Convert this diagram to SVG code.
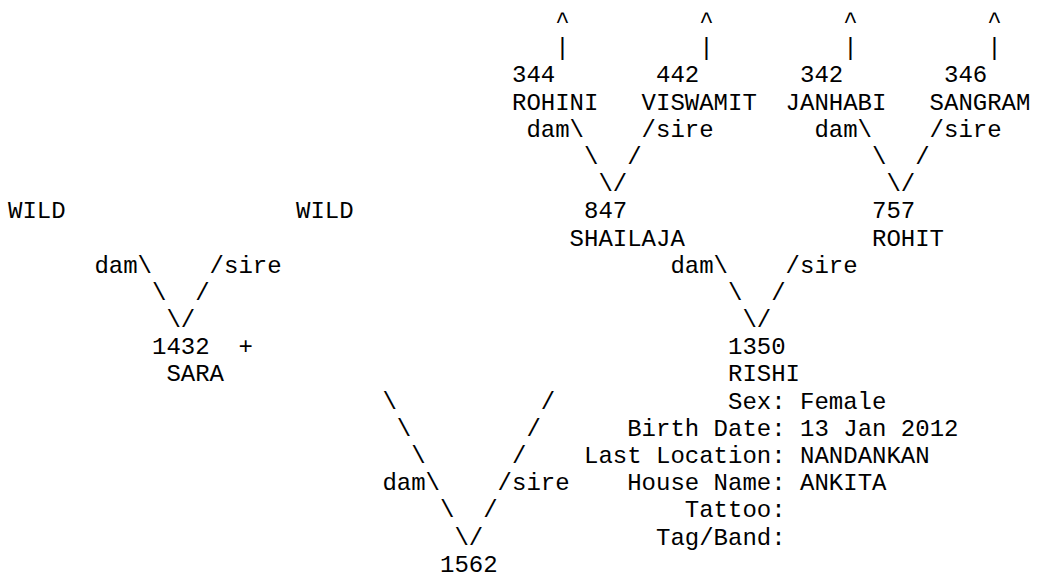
<svg xmlns="http://www.w3.org/2000/svg" width="1040" height="577" viewBox="0 0 1040 577">
<style>
text { font-family: "Liberation Mono", "Courier New", monospace; font-size: 24px; fill: #000; }
</style>
<rect width="1040" height="577" fill="#fff"/>
<g id="connectors">
<text x="555.2" y="28">^</text><text x="699.2" y="28">^</text><text x="843.2" y="28">^</text><text x="987.2" y="28">^</text>
<text x="555.2" y="55.19">|</text><text x="699.2" y="55.19">|</text><text x="843.2" y="55.19">|</text><text x="987.2" y="55.19">|</text>
<text x="526.4" y="136.76">dam\</text><text x="641.6" y="136.76">/sire</text><text x="814.4" y="136.76">dam\</text><text x="929.6" y="136.76">/sire</text>
<text x="584" y="163.95">\</text><text x="627.2" y="163.95">/</text><text x="872" y="163.95">\</text><text x="915.2" y="163.95">/</text>
<text x="598.4" y="191.14">\/</text><text x="886.4" y="191.14">\/</text>
<text x="94.4" y="272.71">dam\</text><text x="209.6" y="272.71">/sire</text><text x="670.4" y="272.71">dam\</text><text x="785.6" y="272.71">/sire</text>
<text x="152" y="299.9">\</text><text x="195.2" y="299.9">/</text><text x="728" y="299.9">\</text><text x="771.2" y="299.9">/</text>
<text x="166.4" y="327.09">\/</text><text x="742.4" y="327.09">\/</text>
<text x="238.4" y="354.28">+</text>
<text x="382.4" y="408.66">\</text><text x="540.8" y="408.66">/</text>
<text x="396.8" y="435.85">\</text><text x="526.4" y="435.85">/</text>
<text x="411.2" y="463.04">\</text><text x="512" y="463.04">/</text>
<text x="382.4" y="490.23">dam\</text><text x="497.6" y="490.23">/sire</text>
<text x="440" y="517.42">\</text><text x="483.2" y="517.42">/</text>
<text x="454.4" y="544.61">\/</text>
</g>
<g id="node-344"><text x="512" y="82.38">344</text><text x="512" y="109.57">ROHINI</text></g>
<g id="node-442"><text x="656" y="82.38">442</text><text x="641.6" y="109.57">VISWAMIT</text></g>
<g id="node-342"><text x="800" y="82.38">342</text><text x="785.6" y="109.57">JANHABI</text></g>
<g id="node-346"><text x="944" y="82.38">346</text><text x="929.6" y="109.57">SANGRAM</text></g>
<g id="node-wild-dam"><text x="8" y="218.33">WILD</text></g>
<g id="node-wild-sire"><text x="296" y="218.33">WILD</text></g>
<g id="node-847"><text x="584" y="218.33">847</text><text x="569.6" y="245.52">SHAILAJA</text></g>
<g id="node-757"><text x="872" y="218.33">757</text><text x="872" y="245.52">ROHIT</text></g>
<g id="node-1432"><text x="152" y="354.28">1432</text><text x="166.4" y="381.47">SARA</text></g>
<g id="node-1350">
<text x="728" y="354.28">1350</text><text x="728" y="381.47">RISHI</text>
<text x="728" y="408.66">Sex: Female</text>
<text x="627.2" y="435.85">Birth Date: 13 Jan 2012</text>
<text x="584" y="463.04">Last Location: NANDANKAN</text>
<text x="627.2" y="490.23">House Name: ANKITA</text>
<text x="684.8" y="517.42">Tattoo:</text>
<text x="656" y="544.61">Tag/Band:</text>
</g>
<g id="node-1562"><text x="440" y="571.8">1562</text></g>
</svg>
